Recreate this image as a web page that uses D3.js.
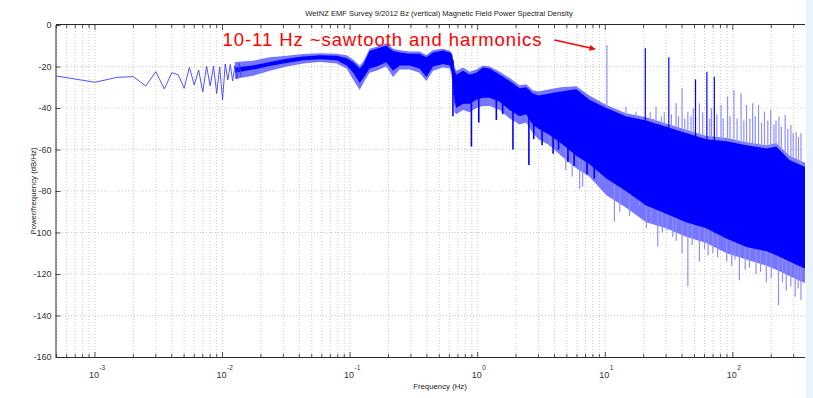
<!DOCTYPE html>
<html>
<head>
<meta charset="utf-8">
<script src="https://cdn.jsdelivr.net/npm/d3@7"></script>
<style>
  body { margin: 0; background: #fff; }
  svg text { font-family: "Liberation Sans", Arial, sans-serif; }
</style>
</head>
<body>
<div id="chart"></div>
<script>
// WetNZ EMF survey, Bz power spectral density

// sparse low-frequency bins (Hz, dB/Hz)
const lowFreq = [0.0005, 0.001, 0.0015, 0.002, 0.0025, 0.003, 0.0035, 0.004, 0.0045, 0.005,
  0.0055, 0.006, 0.0065, 0.007, 0.0075, 0.008, 0.0085, 0.009, 0.0095, 0.01,
  0.0105, 0.011, 0.0115, 0.012, 0.0125, 0.013, 0.0135, 0.014];
const lowDb = [-24.6, -27.6, -25.2, -24.9, -29.4, -22.5, -30.8, -23, -24, -30.5,
  -20.4, -28.9, -21.7, -32.3, -19.8, -29.4, -19.8, -33, -20.2, -36.1,
  -18.8, -26.5, -19, -27, -19.5, -26, -18.5, -25];

// dense part: envelope of the trace
const bandFreq = [0.0125, 0.0173, 0.0235, 0.0318, 0.043, 0.058, 0.0785, 0.094, 0.106, 0.119,
  0.127, 0.142, 0.161, 0.192, 0.217, 0.245, 0.294, 0.35, 0.396, 0.447,
  0.535, 0.604, 0.63, 0.66, 0.68, 0.767, 0.866, 0.976, 1.1, 1.24,
  1.49, 1.78, 2.13, 2.4, 2.7, 3.0, 3.66, 4.5, 5.93, 7.5,
  10.2, 14.5, 20.9, 30, 43, 62, 89.5, 128, 184, 219,
  278, 354, 500];
const coreTop = [-20.5, -19.5, -17.8, -16.3, -15.2, -14.6, -14.8, -16, -18, -21,
  -19, -12.5, -11.5, -10, -12.5, -13.2, -13.8, -13.8, -15.6, -13.2,
  -12.3, -13.2, -14.5, -22, -24, -22, -24, -23, -20.5, -21,
  -24, -27, -30.5, -30, -33, -34, -33, -32, -31, -36,
  -40, -44, -46, -49, -52, -55, -56, -58, -59.5, -58.5,
  -65, -68, -72];
const coreBottom = [-23, -21.5, -19.8, -18.3, -17, -16.5, -17, -19.5, -23, -28,
  -25.5, -21, -20, -18, -22, -19.5, -19.5, -21, -25, -20,
  -18.8, -19.5, -23, -37, -40, -38, -38, -36, -35, -35,
  -37, -41, -44, -43, -48, -50, -53, -57, -63, -67,
  -74, -80, -87, -91, -95, -98, -103, -107, -109, -111,
  -114, -117, -120];
const outerTop = [-17.8, -17.2, -15.6, -14.8, -14, -13.6, -13.8, -14.6, -16.8, -19.5,
  -17.5, -11.5, -10.5, -8.8, -11.5, -12.2, -12.8, -12.8, -14.5, -12,
  -11.4, -12.4, -13.5, -20.5, -22, -20.5, -22.5, -21.5, -19.5, -20,
  -22.5, -25.5, -29, -28.5, -31.5, -32, -31, -30, -29.5, -34,
  -38.5, -42.5, -44.5, -47.5, -50.5, -53.5, -54.5, -56.5, -58, -57,
  -63, -66, -70];
const outerBottom = [-26, -24.5, -22, -20, -18.5, -17.8, -18.5, -21, -26.5, -31.3,
  -28, -23, -22, -20, -25, -21.5, -21.5, -23, -27, -22,
  -20.5, -21, -26, -42, -43, -41, -42, -40, -39, -39,
  -41, -45, -48, -47, -52, -55, -58, -63, -69, -73,
  -82, -88, -95, -98, -102, -105, -110, -113, -116, -118,
  -121, -124, -126];

// harmonic spikes above the trace
const lightSpikeFreq = [10.3, 12, 13, 14.5, 16, 17.4, 19, 22.5, 24, 25, 27.5, 29, 33, 35.9,
  37.5, 40, 42, 44.4, 47, 49, 54.7, 58, 66, 68, 75, 80.8, 84, 90.9, 95,
  102, 108, 116, 122, 128, 136, 143, 150, 159, 168, 177, 188, 198, 210,
  218, 230, 240, 257, 270, 285, 297, 313, 327, 342];
const lightSpikeDb = [-9.6, -44, -46, -39.4, -45, -41.8, -44, -42, -45, -39.4, -44, -42, -43, -37.7,
  -44, -30.5, -45, -41.8, -44, -40, -37.7, -42, -45, -40, -43, -38.5, -45, -34.5, -44,
  -31.3, -45, -32.9, -46, -38.5, -45, -37.7, -44, -38.5, -47, -41.8, -46, -41, -48,
  -46, -44.2, -49, -43.4, -50, -48.2, -52, -51.4, -54, -52.2];
const darkSpikeFreq = [20.6, 31.5, 51, 62.6, 71.6];
const darkSpikeDb = [-11.2, -15.6, -26.2, -22.5, -24.9];

// notches below the trace
const darkDipFreq = [0.64, 0.893, 1.02, 1.4, 1.57, 1.89, 2.52, 2.75, 3.2, 3.9, 4.3, 5.1, 5.7, 7.2, 8.2];
const darkDipDb = [-44, -58.6, -47, -45.8, -43, -60, -67.5, -55, -58, -62, -60, -66, -68, -72, -74];
const lightDipFreq = [3.66, 4.9, 5.5, 6.3, 6.65, 9, 11.8, 13, 15.5, 18.5, 21, 23, 25.8, 28, 30.5,
  33.8, 36, 40, 44.4, 48, 54.7, 60, 64, 69.8, 76, 89.5, 98, 104, 112.6, 125, 135,
  152, 165, 183, 200, 228, 245, 262, 285, 308, 325, 342];
const lightDipDb = [-58.6, -70, -73, -79, -78, -73, -94.8, -90, -92, -87, -98, -96, -106.8, -100, -99,
  -102, -104, -110, -126, -106, -114, -108, -111, -110, -112, -114, -116, -113, -123, -118, -117,
  -120, -119, -124, -122, -135, -124, -128, -126, -131, -127, -132.5];

const yTicks = [0, -20, -40, -60, -80, -100, -120, -140, -160];
const xDecades = [-3, -2, -1, 0, 1, 2];

const titleText = 'WetNZ EMF Survey 9/2012 Bz (vertical) Magnetic Field Power Spectral Density';
const annoText = '10-11 Hz ~sawtooth and harmonics';
const annoAt = [0.01, -10];
const arrowFrom = [4.0, -7.2];
const arrowTo = [8.3, -11.6];

const width = 813, height = 398;
const plotLeft = 56, plotTop = 25, plotBottom = 357, clipRight = 805;

const x = d3.scaleLog().domain([4.95e-4, 500]).range([plotLeft, 822]);
const y = d3.scaleLinear().domain([-160, 0]).range([plotBottom, plotTop]);

const svg = d3.select('#chart').append('svg')
  .attr('width', width)
  .attr('height', height);

svg.append('rect').attr('width', width).attr('height', height).attr('fill', '#fff');

const defs = svg.append('defs');
defs.append('clipPath').attr('id', 'plot')
  .append('rect')
  .attr('x', plotLeft).attr('y', plotTop)
  .attr('width', clipRight - plotLeft).attr('height', plotBottom - plotTop);

defs.append('marker')
  .attr('id', 'head')
  .attr('viewBox', '0 0 10 10')
  .attr('refX', 9).attr('refY', 5)
  .attr('markerWidth', 7).attr('markerHeight', 6)
  .attr('markerUnits', 'userSpaceOnUse')
  .attr('orient', 'auto')
  .append('path').attr('d', 'M0,0L10,5L0,10z').attr('fill', '#ff0000');

// grid
const minors = [];
for (let e = -4; e <= 2; e++) {
  for (let m = 1; m <= 9; m++) {
    const v = m * Math.pow(10, e);
    if (v > 4.95e-4 && v < 500) minors.push(v);
  }
}
const grid = svg.append('g').attr('clip-path', 'url(#plot)');
grid.selectAll('.gx').data(minors).enter().append('line')
  .attr('x1', d => x(d)).attr('x2', d => x(d))
  .attr('y1', plotTop).attr('y2', plotBottom)
  .attr('stroke', '#bdbdbd').attr('stroke-width', 0.8)
  .attr('stroke-dasharray', '1,2');
grid.selectAll('.gy').data(yTicks.slice(1, -1)).enter().append('line')
  .attr('x1', plotLeft).attr('x2', clipRight)
  .attr('y1', d => y(d)).attr('y2', d => y(d))
  .attr('stroke', '#bdbdbd').attr('stroke-width', 0.8)
  .attr('stroke-dasharray', '1,2');

// trace
const plot = svg.append('g').attr('clip-path', 'url(#plot)');
const band = (tops, bots) => d3.area()
  .x((d, i) => x(bandFreq[i]))
  .y0((d, i) => y(bots[i]))
  .y1((d, i) => y(tops[i]));

plot.append('path')
  .attr('d', band(outerTop, outerBottom)(bandFreq))
  .attr('fill', '#7676ff');

const topAt = d3.scaleLog().domain(bandFreq).range(coreTop);
const botAt = d3.scaleLog().domain(bandFreq).range(coreBottom);

plot.selectAll(null).data(lightSpikeFreq).enter().append('line')
  .attr('x1', d => x(d)).attr('x2', d => x(d))
  .attr('y1', (d, i) => y(lightSpikeDb[i])).attr('y2', d => y(botAt(d)))
  .attr('stroke', '#8f8fff').attr('stroke-width', 1.2);
plot.selectAll(null).data(lightDipFreq).enter().append('line')
  .attr('x1', d => x(d)).attr('x2', d => x(d))
  .attr('y1', d => y(topAt(d))).attr('y2', (d, i) => y(lightDipDb[i]))
  .attr('stroke', '#8f8fff').attr('stroke-width', 1.2);
plot.selectAll(null).data(darkDipFreq).enter().append('line')
  .attr('x1', d => x(d)).attr('x2', d => x(d))
  .attr('y1', d => y(topAt(d))).attr('y2', (d, i) => y(darkDipDb[i]))
  .attr('stroke', '#0000ff').attr('stroke-width', 1.6);
plot.selectAll(null).data(darkSpikeFreq).enter().append('line')
  .attr('x1', d => x(d)).attr('x2', d => x(d))
  .attr('y1', (d, i) => y(darkSpikeDb[i])).attr('y2', d => y(botAt(d)))
  .attr('stroke', '#0000ff').attr('stroke-width', 1.2);

plot.append('path')
  .attr('d', band(coreTop, coreBottom)(bandFreq))
  .attr('fill', '#0000ff');

plot.append('path')
  .datum(lowFreq)
  .attr('d', d3.line().x(d => x(d)).y((d, i) => y(lowDb[i])))
  .attr('fill', 'none')
  .attr('stroke', '#4040ff')
  .attr('stroke-width', 0.9);

// axes box and ticks (inward)
const axisColor = '#2a2a2a';
const majors = xDecades.map(e => Math.pow(10, e));
const xMinorOnly = minors.filter(v => !majors.some(m => Math.abs(m - v) / m < 1e-9));

function xTicks(g, y0, dir) {
  g.selectAll(null).data(majors).enter().append('line')
    .attr('x1', d => x(d)).attr('x2', d => x(d))
    .attr('y1', y0).attr('y2', y0 + dir * 5)
    .attr('stroke', axisColor).attr('stroke-width', 0.8);
  g.selectAll(null).data(xMinorOnly.filter(v => x(v) < clipRight)).enter().append('line')
    .attr('x1', d => x(d)).attr('x2', d => x(d))
    .attr('y1', y0).attr('y2', y0 + dir * 3)
    .attr('stroke', axisColor).attr('stroke-width', 0.8);
}
const axes = svg.append('g');
xTicks(axes, plotBottom, -1);
xTicks(axes, plotTop, 1);

axes.append('line').attr('x1', plotLeft).attr('x2', clipRight).attr('y1', plotBottom + 0.5).attr('y2', plotBottom + 0.5)
  .attr('stroke', axisColor).attr('stroke-width', 1);
axes.append('line').attr('x1', plotLeft).attr('x2', clipRight).attr('y1', plotTop - 0.5).attr('y2', plotTop - 0.5)
  .attr('stroke', axisColor).attr('stroke-width', 1);

const yAxis = d3.axisLeft(y).tickValues(yTicks).tickSize(-5).tickSizeOuter(0)
  .tickPadding(4).tickFormat(d => String(d));
const ya = svg.append('g').attr('transform', `translate(${plotLeft - 0.5},0)`).call(yAxis);
ya.select('.domain').attr('stroke', axisColor);
ya.selectAll('.tick line').attr('stroke', axisColor).attr('stroke-width', 0.8);
ya.selectAll('.tick text')
  .attr('font-size', 9).attr('fill', '#333')
  .style('font-family', '"Liberation Sans", Arial, sans-serif');

// x tick labels 10^n
const xl = svg.append('g');
majors.forEach((m, i) => {
  xl.append('text')
    .attr('x', x(m) - 1).attr('y', 378)
    .attr('text-anchor', 'middle')
    .attr('font-size', 9).attr('fill', '#333')
    .text('10');
  xl.append('text')
    .attr('x', x(m) + 4.5).attr('y', 370)
    .attr('font-size', 6.5).attr('fill', '#333')
    .text(xDecades[i]);
});

// labels
svg.append('text').attr('x', 439).attr('y', 16)
  .attr('text-anchor', 'middle').attr('font-size', 7.6).attr('fill', '#222')
  .text(titleText);
svg.append('text').attr('x', 440).attr('y', 389)
  .attr('text-anchor', 'middle').attr('font-size', 7.8).attr('fill', '#222')
  .text('Frequency (Hz)');
svg.append('text')
  .attr('transform', 'translate(36,191) rotate(-90)')
  .attr('text-anchor', 'middle').attr('font-size', 7.8).attr('fill', '#222')
  .text('Power/frequency (dB/Hz)');

// annotation
svg.append('text')
  .attr('x', x(annoAt[0])).attr('y', y(annoAt[1]))
  .attr('font-size', 18.5).attr('fill', '#ff0000')
  .attr('textLength', 319).attr('lengthAdjust', 'spacing')
  .text(annoText);
svg.append('line')
  .attr('x1', x(arrowFrom[0])).attr('y1', y(arrowFrom[1]))
  .attr('x2', x(arrowTo[0])).attr('y2', y(arrowTo[1]))
  .attr('stroke', '#ff0000').attr('stroke-width', 1.6)
  .attr('marker-end', 'url(#head)');

// slide background strip on the right
svg.append('rect').attr('x', 806).attr('y', 0).attr('width', 7).attr('height', height)
  .attr('fill', '#e9f4fa');
</script>
</body>
</html>
